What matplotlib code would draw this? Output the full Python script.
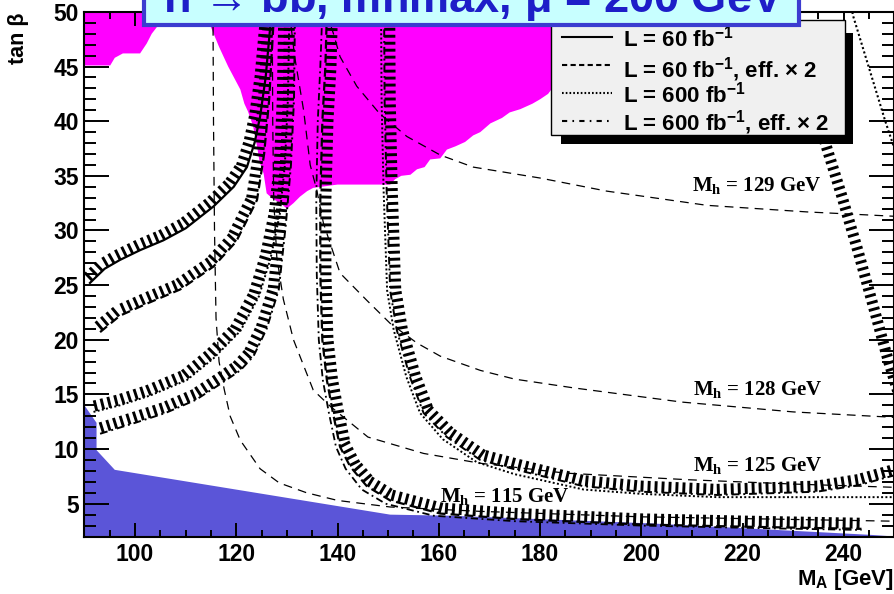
import numpy as np
import matplotlib
matplotlib.use('Agg')
import matplotlib.pyplot as plt
from matplotlib import patheffects
from matplotlib.patches import Polygon, Rectangle
from matplotlib.lines import Line2D

plt.rcParams['font.family'] = ['Liberation Sans', 'DejaVu Sans']
plt.rcParams['font.weight'] = 'bold'
plt.rcParams['mathtext.fontset'] = 'custom'
plt.rcParams['mathtext.rm'] = 'Liberation Sans:bold'
plt.rcParams['mathtext.sf'] = 'Liberation Sans:bold'
plt.rcParams['mathtext.it'] = 'Liberation Sans:bold:italic'
plt.rcParams['mathtext.bf'] = 'Liberation Serif:bold'

# --- excluded regions (M_A, tan beta) ---
pink_ma = [114.4, 115.0, 116.6, 118.4, 120.8, 121.6, 122.3, 123.3, 124.1, 124.6, 125.4, 126.0,
           127.2, 128.7, 130.0, 131.3, 132.6, 134.0, 135.2, 140.0, 146.0, 150.4, 151.4, 152.6,
           154.4, 155.7, 157.2, 158.3, 160.3, 161.6, 163.3, 165.2, 166.8, 168.2, 170.2, 172.5,
           174.0, 176.1, 178.5, 180.0, 181.6, 184.0, 188.0, 196.0]
pink_tb = [50.0, 48.6, 46.8, 45.0, 42.9, 41.6, 40.9, 39.6, 37.7, 36.3, 35.2, 33.4,
           32.9, 32.5, 32.0, 32.5, 33.1, 33.6, 33.9, 34.2, 34.2, 34.2, 34.7, 35.0,
           35.1, 35.6, 35.8, 36.5, 36.6, 37.4, 37.7, 38.1, 38.7, 39.0, 39.8, 40.3,
           40.8, 41.1, 41.6, 42.0, 42.5, 44.0, 46.5, 50.0]
corner_ma = [90.0, 90.0, 95.1, 96.0, 97.6, 101.0, 102.3, 103.3, 104.3, 105.5]
corner_tb = [50.0, 45.1, 45.1, 45.8, 46.2, 46.2, 47.1, 48.0, 48.6, 50.0]
blue_ma = [90.0, 90.0, 92.4, 92.4, 96.0, 150.4, 162.3, 201.8, 245.3, 250.0]
blue_tb = [2.0, 14.0, 12.4, 9.9, 8.1, 4.0, 3.9, 3.2, 2.15, 2.0]

# --- 5 sigma contours, low M_A branch ---
l60_ma = [91.1, 94.0, 97.0, 101.0, 105.6, 110.0, 115.5, 119.5, 122.1, 123.6, 124.7, 125.8, 126.7, 127.0]
l60_tb = [25.2, 26.5, 27.3, 28.2, 29.1, 30.2, 32.2, 34.0, 35.8, 38.0, 40.4, 44.0, 48.6, 50.0]
l60e_ma = [93.1, 97.0, 102.3, 108.9, 115.5, 120.0, 124.1, 125.5, 126.5, 127.3, 127.6]
l60e_tb = [20.7, 22.2, 23.3, 24.6, 26.7, 29.0, 32.8, 37.0, 42.0, 48.6, 50.0]
l600_ma = [91.8, 97.0, 103.0, 110.2, 115.5, 120.8, 124.5, 126.8, 128.6, 129.6, 130.2, 130.5]
l600_tb = [13.4, 14.0, 14.9, 16.3, 18.3, 20.8, 24.0, 27.5, 31.5, 36.0, 42.0, 50.0]
l600e_ma = [93.1, 100.0, 106.0, 112.0, 117.0, 120.8, 123.4, 126.0, 128.4, 129.8, 130.8, 131.4, 131.6]
l600e_tb = [11.4, 12.4, 13.3, 14.5, 16.0, 17.2, 18.5, 21.0, 24.6, 30.6, 36.0, 42.0, 50.0]

# --- 5 sigma contours, high M_A branch ---
r60e_ma = [137.9, 137.6, 137.0, 136.6, 136.6, 137.0, 137.9, 139.1, 140.5, 142.5, 145.8, 150.4,
           160.3, 175.0, 200.0, 220.0, 243.5]
r60e_tb = [50.0, 45.0, 40.0, 33.0, 26.0, 20.0, 16.3, 13.3, 10.2, 8.4, 6.6, 5.3,
           4.1, 3.6, 3.1, 2.9, 2.7]
r60b_ma = [137.0, 136.6, 136.1, 135.8, 135.9, 136.3, 137.1, 138.3, 139.7, 141.6, 144.8, 149.5,
           159.0, 175.0, 200.0, 225.0, 243.5]
r60b_tb = [50.0, 45.0, 40.0, 33.0, 26.0, 20.0, 16.3, 13.3, 10.2, 8.2, 6.3, 5.0,
           3.9, 3.4, 3.0, 2.75, 2.6]
r600e_ma = [149.2, 149.3, 149.7, 150.4, 151.7, 154.3, 157.0, 161.6, 168.2, 175.4, 188.6, 200.0,
            215.0, 234.7, 243.0, 250.0]
r600e_tb = [50.0, 42.0, 33.7, 24.5, 20.9, 16.6, 13.3, 11.1, 9.0, 8.1, 6.6, 6.1,
            5.8, 6.1, 6.7, 7.6]
r600_ma = [148.6, 148.7, 149.1, 149.8, 151.1, 153.6, 156.3, 160.8, 167.5, 175.0, 188.6, 200.0,
           215.0, 235.0, 250.0]
r600_tb = [50.0, 42.0, 33.7, 24.5, 20.9, 16.6, 13.3, 10.9, 8.8, 7.7, 6.3, 5.9,
           5.6, 5.6, 5.6]
edge_ma = [228.2, 231.7, 235.2, 238.5, 241.8, 245.1, 247.4, 249.7]
edge_tb = [50.0, 44.0, 38.0, 33.1, 27.9, 22.4, 18.5, 15.0]
edgedot_ma = [241.7, 241.8, 248.2, 250.0]
edgedot_tb = [50.0, 49.7, 40.0, 37.5]

# --- light Higgs mass contours ---
mh115_ma = [115.4, 115.5, 115.7, 116.0, 116.6, 117.6, 118.8, 120.8, 124.7, 128.5, 133.9, 140.0,
            150.4, 168.2, 200.0, 250.0]
mh115_tb = [50.0, 40.0, 30.0, 22.0, 18.0, 15.5, 13.0, 10.8, 8.2, 6.9, 6.0, 5.3,
            4.7, 4.3, 3.8, 3.4]
mh125_ma = [127.1, 127.2, 127.4, 128.0, 129.3, 131.3, 135.2, 138.6, 146.0, 157.0, 168.2, 185.0,
            209.0, 230.0, 250.0]
mh125_tb = [50.0, 40.0, 32.8, 27.6, 23.7, 20.0, 15.4, 13.9, 11.1, 9.6, 8.7, 7.8,
            7.2, 6.8, 6.5]
mh128_ma = [130.5, 131.5, 133.3, 134.6, 135.9, 137.2, 140.5, 145.8, 150.4, 155.7, 160.3, 168.2,
            175.0, 186.6, 208.0, 230.0, 250.0]
mh128_tb = [50.0, 46.0, 41.0, 36.0, 33.7, 30.7, 26.1, 23.6, 21.5, 19.7, 18.5, 17.2,
            16.4, 15.6, 14.3, 13.4, 12.9]
mh129_ma = [137.8, 139.2, 140.5, 143.8, 148.3, 153.7, 160.3, 166.8, 180.0, 193.2, 213.0, 232.7, 250.0]
mh129_tb = [50.0, 48.0, 45.9, 43.2, 40.7, 38.6, 36.9, 35.8, 34.8, 33.6, 32.3, 31.7, 31.3]

mh_values = ['115', '125', '128', '129']
mh_label_ma = [160.3, 210.3, 210.3, 210.1]
mh_label_tb = [5.2, 8.0, 14.95, 33.6]

legend_labels = [r'L = 60 fb$^{-1}$', r'L = 60 fb$^{-1}$, eff. × 2',
                 r'L = 600 fb$^{-1}$', r'L = 600 fb$^{-1}$, eff. × 2']

W, H = 895, 594


def fx(px):
    return px / W


def fy(py):
    return 1 - py / H


def hatch(ax, x, y, side=90, spacing=5.0, length=1.6, lw=2.1):
    """Draw ROOT-style hatching on one side of a contour."""
    ax.plot(x, y, color='black', zorder=3,
            path_effects=[patheffects.TickedStroke(spacing=spacing, angle=side, length=length,
                                                   linewidth=lw, foreground='black',
                                                   capstyle='butt')])


fig = plt.figure(figsize=(W / 100, H / 100), dpi=100)
ax = fig.add_axes([fx(84.4), fy(536.5), (894.4 - 84.4) / W, (536.5 - 11.9) / H])

ax.add_patch(Polygon(np.column_stack([pink_ma, pink_tb]), closed=True,
                     facecolor='#ff00ff', edgecolor='none', zorder=1))
ax.add_patch(Polygon(np.column_stack([corner_ma, corner_tb]), closed=True,
                     facecolor='#ff00ff', edgecolor='none', zorder=1))
ax.add_patch(Polygon(np.column_stack([blue_ma, blue_tb]), closed=True,
                     facecolor='#5b55d8', edgecolor='none', zorder=1))

# Mh iso-lines
thin = dict(color='black', lw=0.9, linestyle=(0, (7, 5)), zorder=2)
for xs, ys in [(mh115_ma, mh115_tb), (mh125_ma, mh125_tb),
               (mh128_ma, mh128_tb), (mh129_ma, mh129_tb)]:
    ax.plot(xs, ys, **thin)

# hatched discovery contours
for xs, ys in [(l60_ma, l60_tb), (l60e_ma, l60e_tb), (l600_ma, l600_tb),
               (l600e_ma, l600e_tb), (r60e_ma, r60e_tb), (r600e_ma, r600e_tb),
               (edge_ma, edge_tb)]:
    hatch(ax, xs, ys)

ax.plot(l60_ma, l60_tb, color='black', lw=1.6, zorder=4)
ax.plot(l60e_ma, l60e_tb, color='black', lw=1.6, linestyle=(0, (4, 2.3)), zorder=4)
ax.plot(l600_ma, l600_tb, color='black', lw=1.4, linestyle=(0, (1, 1.2)), zorder=4)
ax.plot(l600e_ma, l600e_tb, color='black', lw=1.4, linestyle=(0, (4, 2, 1, 2)), zorder=4)
ax.plot(r60e_ma, r60e_tb, color='black', lw=1.6, linestyle=(0, (4, 2.3)), zorder=4)
ax.plot(r60b_ma, r60b_tb, color='black', lw=1.3, linestyle=(0, (4, 2, 1, 2)), zorder=4)
ax.plot(r600e_ma, r600e_tb, color='black', lw=1.4, linestyle=(0, (4, 2, 1, 2)), zorder=4)
ax.plot(r600_ma, r600_tb, color='black', lw=1.4, linestyle=(0, (1, 1.2)), zorder=4)
ax.plot(edgedot_ma, edgedot_tb, color='black', lw=1.5, linestyle=(0, (1, 1.2)), zorder=4)

for val, xm, ym in zip(mh_values, mh_label_ma, mh_label_tb):
    ax.text(xm, ym, r'$\mathbf{M_h}$ = ' + val + ' GeV', family='Liberation Serif',
            fontweight='bold', fontsize=15, va='baseline', ha='left', zorder=6)

ax.set_xlim(90, 250)
ax.set_ylim(2, 50)
ax.set_xticks(np.arange(100, 241, 20))
ax.set_xticks(np.arange(90, 251, 5), minor=True)
ax.set_yticks(np.arange(5, 51, 5))
ax.set_yticks(np.arange(2, 51, 1), minor=True)
ax.tick_params(which='both', direction='in', top=True, right=True, width=1.4, labelsize=16.5)
ax.tick_params(axis='x', which='major', length=10, pad=5)
ax.tick_params(axis='x', which='minor', length=5)
ax.tick_params(axis='y', which='major', length=18, pad=4)
ax.tick_params(axis='y', which='minor', length=8.6)
for lab in ax.get_xticklabels() + ax.get_yticklabels():
    lab.set_fontweight('bold')
for sp in ax.spines.values():
    sp.set_linewidth(1.5)

fig.text(fx(894), fy(585), r'$\mathrm{M_A}$ [GeV]', ha='right', va='baseline', fontsize=16)
fig.text(fx(19), fy(12), 'tan β', rotation=90, ha='center', va='top', fontsize=15.5)

# legend box with drop shadow
fig.add_artist(Rectangle((fx(561), fy(144)), (853 - 561) / W, (144 - 33) / H,
                         transform=fig.transFigure, facecolor='black', edgecolor='none', zorder=10))
fig.add_artist(Rectangle((fx(551), fy(135)), (845 - 551) / W, (135 - 20) / H,
                         transform=fig.transFigure, facecolor='#f0f0f0', edgecolor='black',
                         lw=1.0, zorder=11))
legend_styles = ['-', (0, (2.5, 1.6)), (0, (0.8, 1.0)), (0, (2.5, 2.5, 0.8, 2.5))]
row_line = [37.3, 65.0, 93.3, 120.7]
row_text = [46.7, 76.5, 102.5, 130.0]
for lab, ls, yl, yt in zip(legend_labels, legend_styles, row_line, row_text):
    fig.add_artist(Line2D([fx(562), fx(612)], [fy(yl), fy(yl)], transform=fig.transFigure,
                          color='black', lw=1.5, linestyle=ls, zorder=12))
    fig.text(fx(623), fy(yt), lab, ha='left', va='baseline', fontsize=16, zorder=12)

# title box, running off the top edge
fig.add_artist(Rectangle((fx(144), fy(25)), (799 - 144) / W, 40 / H, transform=fig.transFigure,
                         facecolor='#c8ffff', edgecolor='#3c3cd0', lw=3.0, zorder=20))
fig.text(fx(163), fy(13), r'h → b$\bar{\mathrm{b}}$, mhmax, μ = 200 GeV', ha='left',
         va='baseline', fontsize=32.5, color='#1e1ec8', zorder=21)

fig.savefig('out.png', dpi=100)
